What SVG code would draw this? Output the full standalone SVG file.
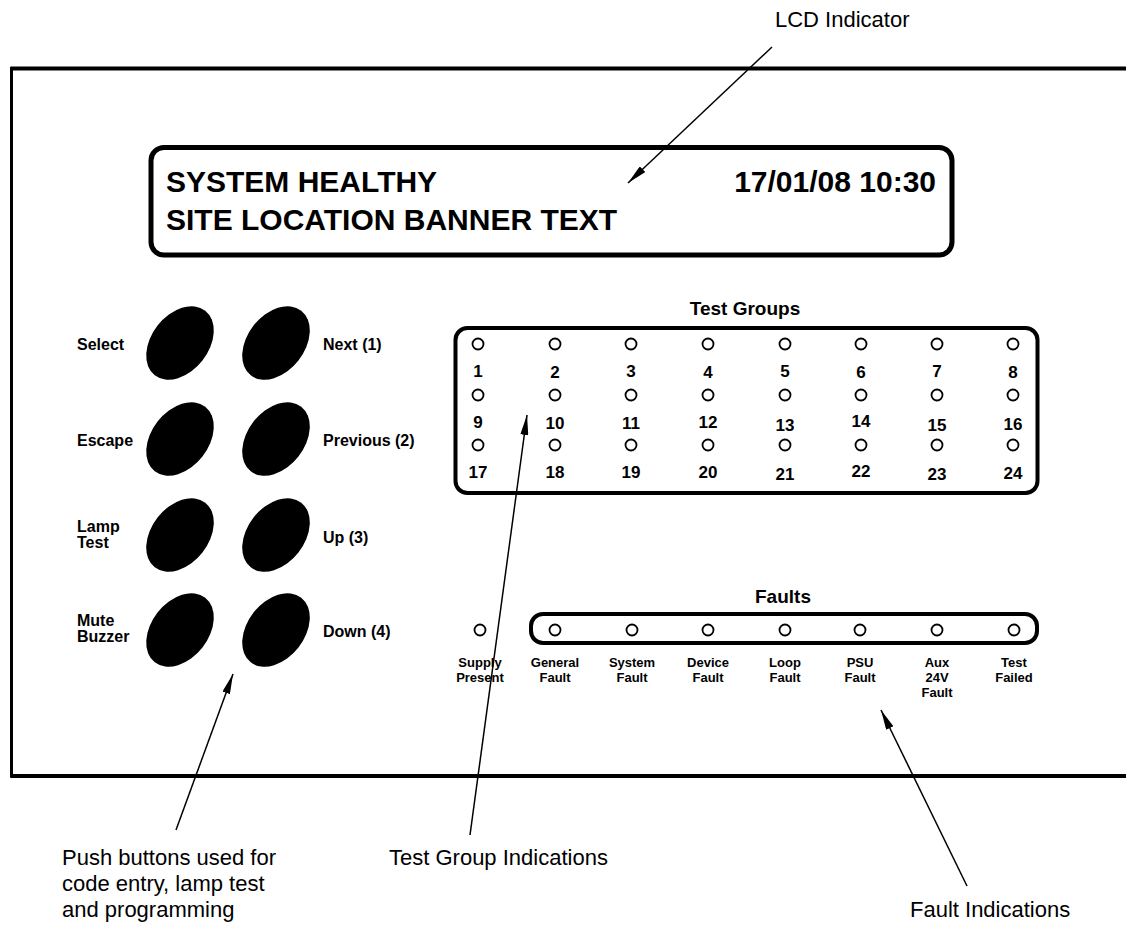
<svg xmlns="http://www.w3.org/2000/svg" width="1126" height="927" viewBox="0 0 1126 927">
<style>
.lbl{font-family:"Liberation Sans",Arial,sans-serif;font-size:22px;fill:#000}
.lcd{font-family:"Liberation Sans",Arial,sans-serif;font-size:30px;font-weight:bold;fill:#000}
.btn{font-family:"Liberation Sans",Arial,sans-serif;font-size:16px;font-weight:bold;fill:#000}
.ttl{font-family:"Liberation Sans",Arial,sans-serif;font-size:19px;font-weight:bold;fill:#000;text-anchor:middle}
.num{font-family:"Liberation Sans",Arial,sans-serif;font-size:17px;font-weight:bold;fill:#000;text-anchor:middle}
.flt{font-family:"Liberation Sans",Arial,sans-serif;font-size:13px;font-weight:bold;fill:#000;text-anchor:middle}
.led{fill:#fff;stroke:#000;stroke-width:1.8}
.key{fill:#000}
.frame{fill:none;stroke:#000;stroke-linejoin:round}
.conn{stroke:#000;stroke-width:1.5;fill:none;marker-end:url(#ah)}
</style>
<defs>
<marker id="ah" viewBox="0 0 20 8" markerWidth="20" markerHeight="8" refX="20" refY="4" orient="auto" markerUnits="userSpaceOnUse">
<path d="M0,0 L20,4 L0,8 z" fill="#000"/>
</marker>
</defs>
<rect width="1126" height="927" fill="#fff"/>

<g id="panel">
<line x1="10.5" y1="68.5" x2="1126" y2="68.5" stroke="#000" stroke-width="4"/>
<line x1="10.5" y1="776" x2="1126" y2="776" stroke="#000" stroke-width="4"/>
<line x1="11.5" y1="67" x2="11.5" y2="777.5" stroke="#000" stroke-width="3"/>
</g>

<g id="lcd">
<rect class="frame" x="151" y="147.5" width="801" height="107.5" rx="13" stroke-width="5"/>
<text class="lcd" x="166" y="192">SYSTEM HEALTHY</text>
<text class="lcd" x="936" y="192" text-anchor="end">17/01/08 10:30</text>
<text class="lcd" x="166" y="230">SITE LOCATION BANNER TEXT</text>
</g>

<g id="buttons">
<ellipse class="key" cx="180" cy="343" rx="41" ry="28.5" transform="rotate(-52 180 343)"/>
<ellipse class="key" cx="276" cy="343" rx="41" ry="28.5" transform="rotate(-52 276 343)"/>
<ellipse class="key" cx="180" cy="439" rx="41" ry="28.5" transform="rotate(-52 180 439)"/>
<ellipse class="key" cx="276" cy="439" rx="41" ry="28.5" transform="rotate(-52 276 439)"/>
<ellipse class="key" cx="180" cy="535" rx="41" ry="28.5" transform="rotate(-52 180 535)"/>
<ellipse class="key" cx="276" cy="535" rx="41" ry="28.5" transform="rotate(-52 276 535)"/>
<ellipse class="key" cx="180" cy="630" rx="41" ry="28.5" transform="rotate(-52 180 630)"/>
<ellipse class="key" cx="276" cy="630" rx="41" ry="28.5" transform="rotate(-52 276 630)"/>
<text class="btn" x="77" y="350">Select</text>
<text class="btn" x="77" y="446">Escape</text>
<text class="btn" x="77" y="532">Lamp</text>
<text class="btn" x="77" y="548">Test</text>
<text class="btn" x="77" y="626">Mute</text>
<text class="btn" x="77" y="642">Buzzer</text>
<text class="btn" x="323" y="350">Next (1)</text>
<text class="btn" x="323" y="446">Previous (2)</text>
<text class="btn" x="323" y="543">Up (3)</text>
<text class="btn" x="323" y="637">Down (4)</text>
</g>

<g id="test-groups">
<text class="ttl" x="745" y="315">Test Groups</text>
<rect class="frame" x="455.5" y="328" width="582" height="165" rx="12" stroke-width="4"/>
<g id="tg-leds">
<circle class="led" cx="478" cy="344" r="5.5"/><circle class="led" cx="555" cy="344" r="5.5"/><circle class="led" cx="631" cy="344" r="5.5"/><circle class="led" cx="708" cy="344" r="5.5"/><circle class="led" cx="785" cy="344" r="5.5"/><circle class="led" cx="861" cy="344" r="5.5"/><circle class="led" cx="937" cy="344" r="5.5"/><circle class="led" cx="1013" cy="344" r="5.5"/>
<circle class="led" cx="478" cy="395" r="5.5"/><circle class="led" cx="555" cy="395" r="5.5"/><circle class="led" cx="631" cy="395" r="5.5"/><circle class="led" cx="708" cy="395" r="5.5"/><circle class="led" cx="785" cy="395" r="5.5"/><circle class="led" cx="861" cy="395" r="5.5"/><circle class="led" cx="937" cy="395" r="5.5"/><circle class="led" cx="1013" cy="395" r="5.5"/>
<circle class="led" cx="478" cy="445" r="5.5"/><circle class="led" cx="555" cy="445" r="5.5"/><circle class="led" cx="631" cy="445" r="5.5"/><circle class="led" cx="708" cy="445" r="5.5"/><circle class="led" cx="785" cy="445" r="5.5"/><circle class="led" cx="861" cy="445" r="5.5"/><circle class="led" cx="937" cy="445" r="5.5"/><circle class="led" cx="1013" cy="445" r="5.5"/>
</g>
<g id="tg-numbers">
<text class="num" x="478" y="377">1</text><text class="num" x="555" y="378">2</text><text class="num" x="631" y="377">3</text><text class="num" x="708" y="378">4</text><text class="num" x="785" y="377">5</text><text class="num" x="861" y="378">6</text><text class="num" x="937" y="377">7</text><text class="num" x="1013" y="378">8</text>
<text class="num" x="478" y="428">9</text><text class="num" x="555" y="429">10</text><text class="num" x="631" y="429">11</text><text class="num" x="708" y="428">12</text><text class="num" x="785" y="431">13</text><text class="num" x="861" y="427">14</text><text class="num" x="937" y="431">15</text><text class="num" x="1013" y="430">16</text>
<text class="num" x="478" y="478">17</text><text class="num" x="555" y="478">18</text><text class="num" x="631" y="478">19</text><text class="num" x="708" y="478">20</text><text class="num" x="785" y="480">21</text><text class="num" x="861" y="477">22</text><text class="num" x="937" y="480">23</text><text class="num" x="1013" y="479">24</text>
</g>
</g>

<g id="faults">
<text class="ttl" x="783" y="603">Faults</text>
<rect class="frame" x="531" y="614" width="506" height="29" rx="12" stroke-width="4"/>
<circle class="led" cx="480" cy="630" r="5.5"/>
<circle class="led" cx="555" cy="630" r="5.5"/>
<circle class="led" cx="632" cy="630" r="5.5"/>
<circle class="led" cx="708" cy="630" r="5.5"/>
<circle class="led" cx="785" cy="630" r="5.5"/>
<circle class="led" cx="860" cy="630" r="5.5"/>
<circle class="led" cx="937" cy="630" r="5.5"/>
<circle class="led" cx="1014" cy="630" r="5.5"/>
<text class="flt" x="480" y="667">Supply</text><text class="flt" x="480" y="682">Present</text>
<text class="flt" x="555" y="667">General</text><text class="flt" x="555" y="682">Fault</text>
<text class="flt" x="632" y="667">System</text><text class="flt" x="632" y="682">Fault</text>
<text class="flt" x="708" y="667">Device</text><text class="flt" x="708" y="682">Fault</text>
<text class="flt" x="785" y="667">Loop</text><text class="flt" x="785" y="682">Fault</text>
<text class="flt" x="860" y="667">PSU</text><text class="flt" x="860" y="682">Fault</text>
<text class="flt" x="937" y="667">Aux</text><text class="flt" x="937" y="682">24V</text><text class="flt" x="937" y="697">Fault</text>
<text class="flt" x="1014" y="667">Test</text><text class="flt" x="1014" y="682">Failed</text>
</g>

<g id="labels">
<text class="lbl" x="775" y="27">LCD Indicator</text>
<text class="lbl" x="62" y="865">Push buttons used for</text>
<text class="lbl" x="62" y="891">code entry, lamp test</text>
<text class="lbl" x="62" y="917">and programming</text>
<text class="lbl" x="389" y="865">Test Group Indications</text>
<text class="lbl" x="910" y="917">Fault Indications</text>
</g>

<g id="connectors">
<line class="conn" x1="772" y1="47" x2="628" y2="183"/>
<line class="conn" x1="176" y1="830" x2="233" y2="674"/>
<line class="conn" x1="470" y1="835" x2="527" y2="415"/>
<line class="conn" x1="967" y1="886" x2="881" y2="710"/>
</g>
</svg>
